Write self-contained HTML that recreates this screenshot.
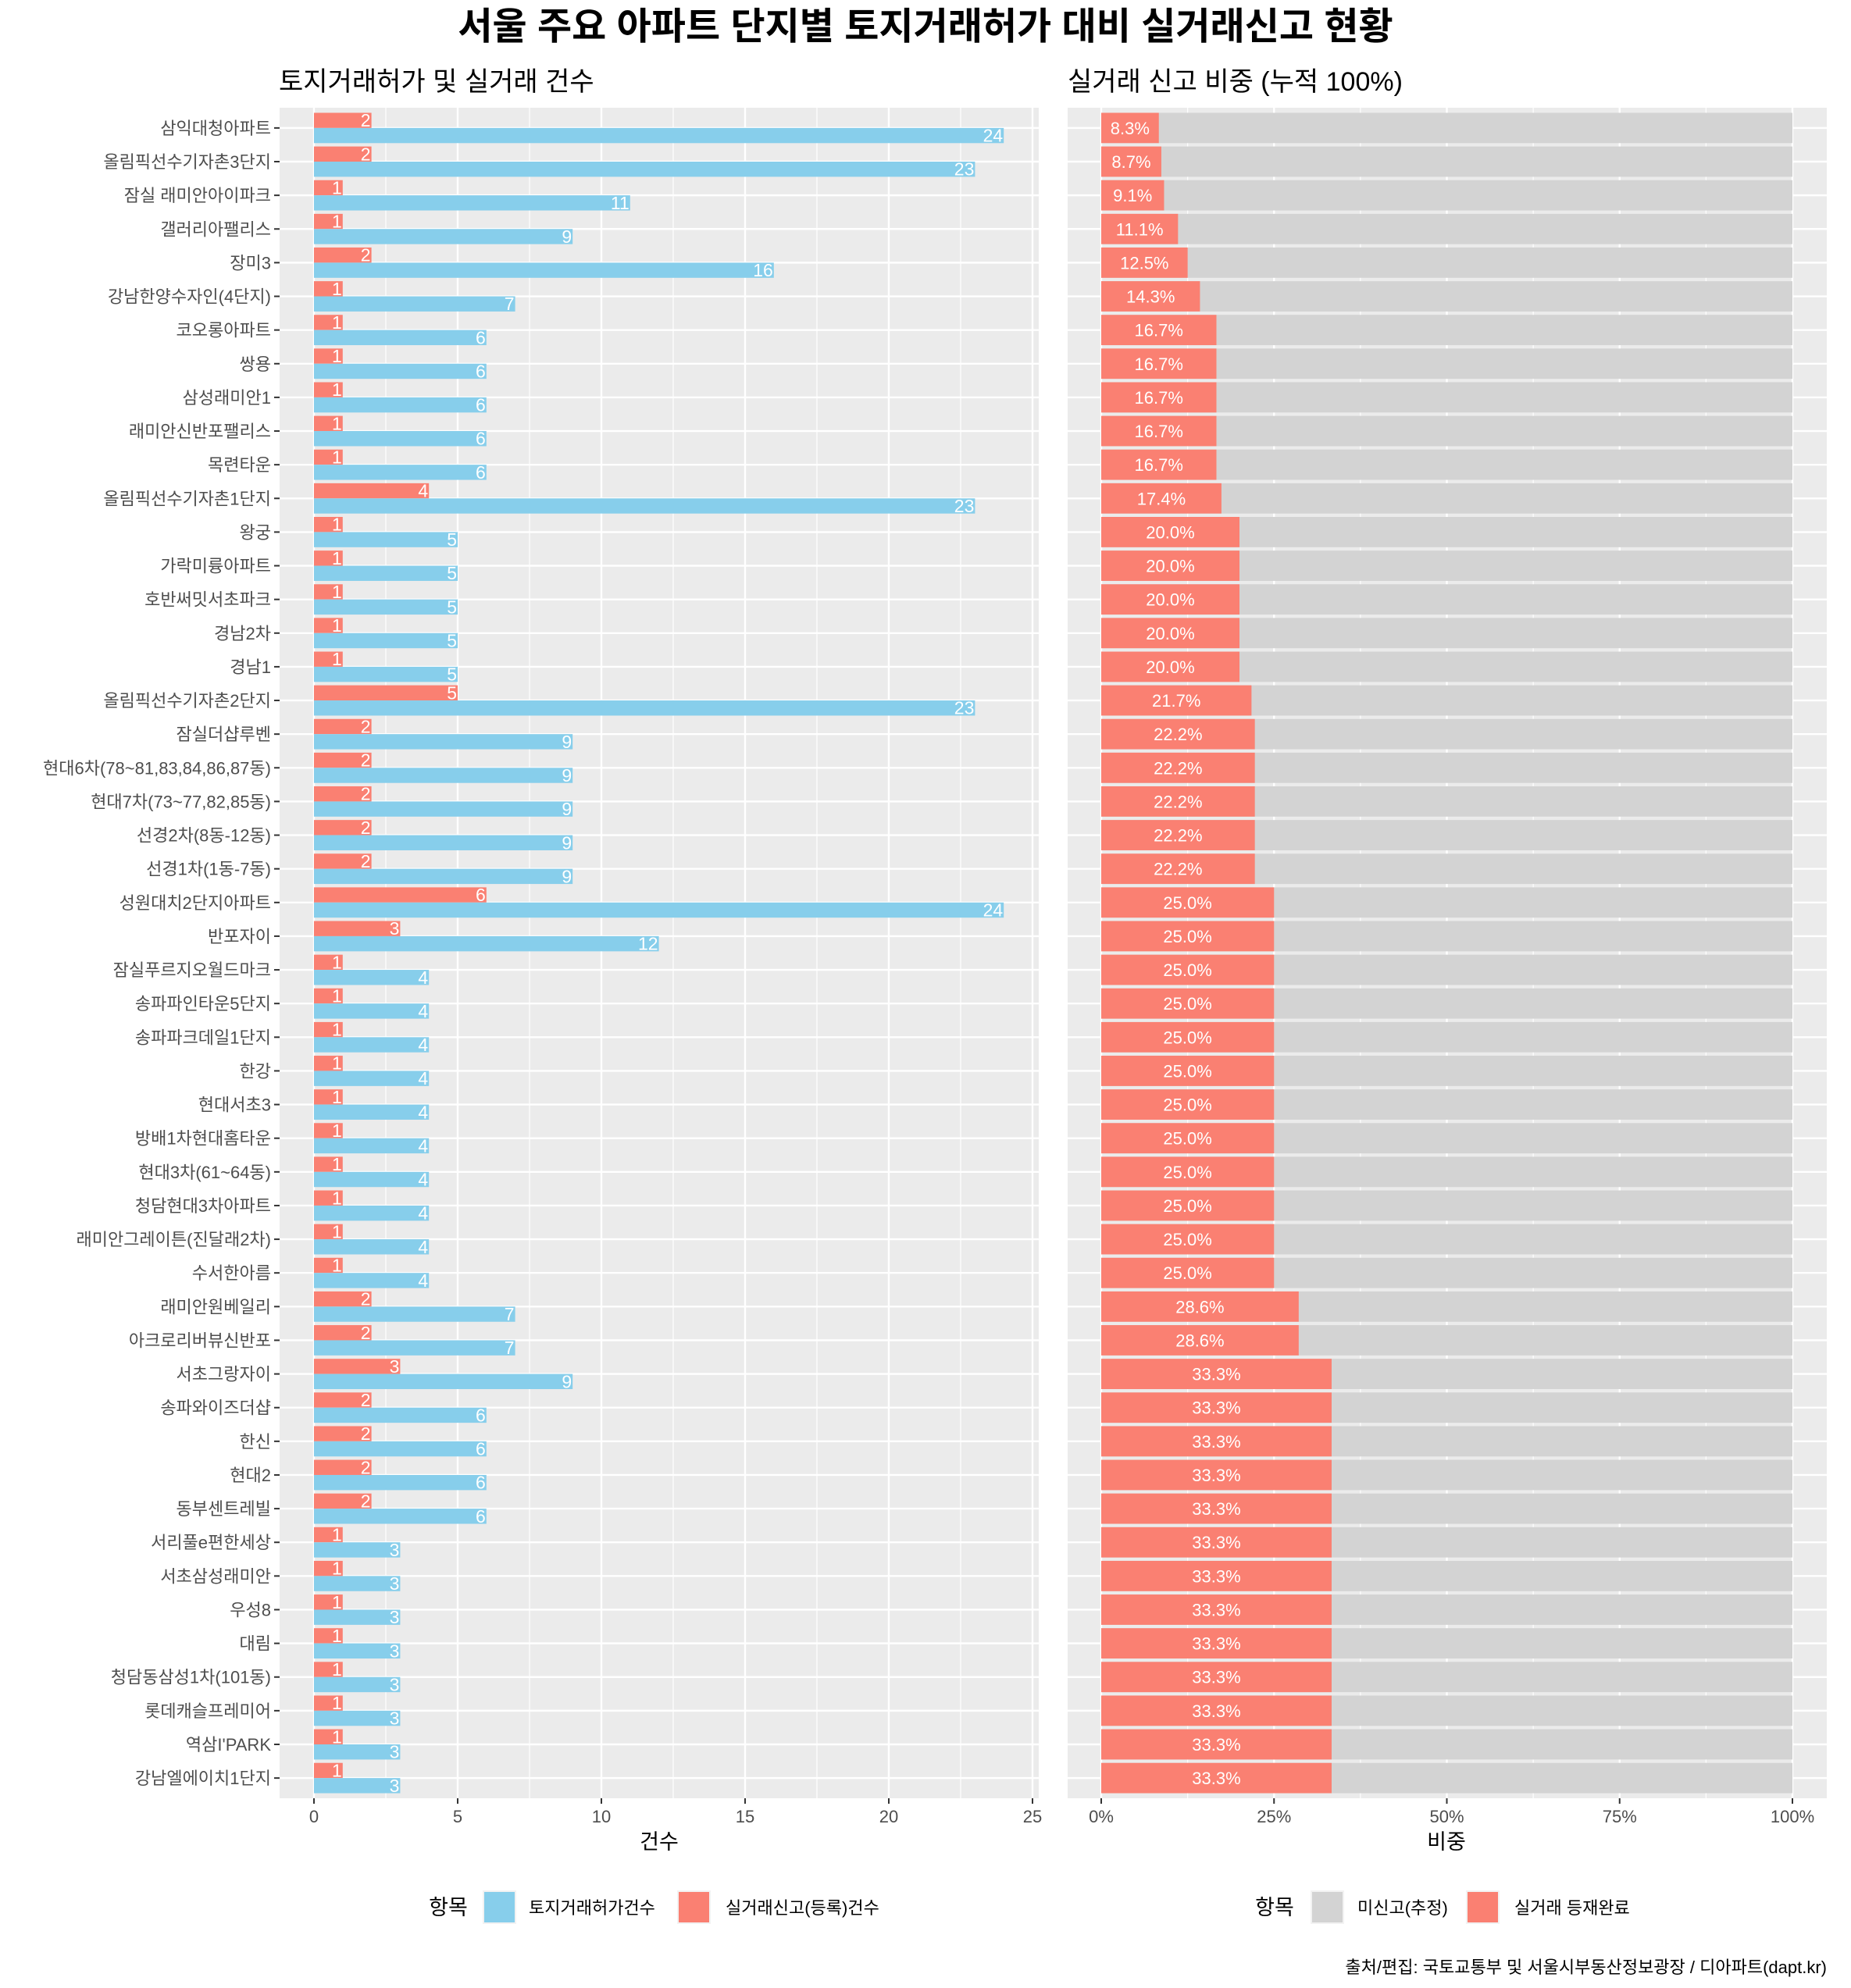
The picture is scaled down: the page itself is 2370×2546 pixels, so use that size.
<!DOCTYPE html>
<html><head><meta charset="utf-8">
<style>
html,body{margin:0;padding:0;background:#fff;}
svg{display:block;font-family:"Liberation Sans","Noto Sans CJK KR",sans-serif;}
</style></head>
<body>
<svg id="chart" width="2370" height="2546" viewBox="0 0 2370 2546" xmlns="http://www.w3.org/2000/svg">
<text x="1185" y="50" text-anchor="middle" font-size="48" font-weight="bold" fill="#000">서울 주요 아파트 단지별 토지거래허가 대비 실거래신고 현황</text>
<text x="357" y="116" font-size="34" fill="#000">토지거래허가 및 실거래 건수</text>
<text x="1367" y="116" font-size="34" fill="#000">실거래 신고 비중 (누적 100%)</text>
<g id="left"></g>
<g id="right"></g>
<text x="844" y="2368" text-anchor="middle" font-size="27" fill="#000">건수</text>
<text x="1852" y="2368" text-anchor="middle" font-size="27" fill="#000">비중</text>
<g>
<text x="574" y="2452" text-anchor="middle" font-size="27">항목</text>
<rect x="618" y="2421" width="43" height="43" fill="#F2F2F2"/>
<rect x="620" y="2423" width="39" height="39" fill="#87CEEB"/>
<text x="677" y="2451" font-size="22">토지거래허가건수</text>
<rect x="867" y="2421" width="43" height="43" fill="#F2F2F2"/>
<rect x="869" y="2423" width="39" height="39" fill="#FA8072"/>
<text x="929" y="2451" font-size="22">실거래신고(등록)건수</text>
</g>
<g>
<text x="1632" y="2452" text-anchor="middle" font-size="27">항목</text>
<rect x="1678" y="2421" width="43" height="43" fill="#F2F2F2"/>
<rect x="1680" y="2423" width="39" height="39" fill="#D3D3D3"/>
<text x="1738" y="2451" font-size="22">미신고(추정)</text>
<rect x="1877" y="2421" width="43" height="43" fill="#F2F2F2"/>
<rect x="1879" y="2423" width="39" height="39" fill="#FA8072"/>
<text x="1939" y="2451" font-size="22">실거래 등재완료</text>
</g>
<text x="2339" y="2527" text-anchor="end" font-size="22">출처/편집: 국토교통부 및 서울시부동산정보광장 / 디아파트(dapt.kr)</text>
</svg>
<script>
const categories = ["삼익대청아파트","올림픽선수기자촌3단지","잠실 래미안아이파크","갤러리아팰리스","장미3","강남한양수자인(4단지)","코오롱아파트","쌍용","삼성래미안1","래미안신반포팰리스","목련타운","올림픽선수기자촌1단지","왕궁","가락미륭아파트","호반써밋서초파크","경남2차","경남1","올림픽선수기자촌2단지","잠실더샵루벤","현대6차(78~81,83,84,86,87동)","현대7차(73~77,82,85동)","선경2차(8동-12동)","선경1차(1동-7동)","성원대치2단지아파트","반포자이","잠실푸르지오월드마크","송파파인타운5단지","송파파크데일1단지","한강","현대서초3","방배1차현대홈타운","현대3차(61~64동)","청담현대3차아파트","래미안그레이튼(진달래2차)","수서한아름","래미안원베일리","아크로리버뷰신반포","서초그랑자이","송파와이즈더샵","한신","현대2","동부센트레빌","서리풀e편한세상","서초삼성래미안","우성8","대림","청담동삼성1차(101동)","롯데캐슬프레미어","역삼I'PARK","강남엘에이치1단지"];
const reportCounts = [2,2,1,1,2,1,1,1,1,1,1,4,1,1,1,1,1,5,2,2,2,2,2,6,3,1,1,1,1,1,1,1,1,1,1,2,2,3,2,2,2,2,1,1,1,1,1,1,1,1];
const permitCounts = [24,23,11,9,16,7,6,6,6,6,6,23,5,5,5,5,5,23,9,9,9,9,9,24,12,4,4,4,4,4,4,4,4,4,4,7,7,9,6,6,6,6,3,3,3,3,3,3,3,3];
const countTicks = [0,5,10,15,20,25];
const pctTicks = [0,25,50,75,100];
const pctTickLabels = ["0%","25%","50%","75%","100%"];

const NS="http://www.w3.org/2000/svg";
function mk(parent,tag,attrs,text){const e=document.createElementNS(NS,tag);for(const k in attrs)e.setAttribute(k,attrs[k]);if(text!==undefined)e.textContent=text;parent.appendChild(e);return e;}
const topY=138,bottomY=2303;
const step=(bottomY-topY)/(categories.length-1+1.2);
const yC=i=>topY+0.6*step+i*step;
const band=0.9*step;

// left panel
const L=document.getElementById('left');
const lx0=358,lx1=1330;
const xL=v=>402+v*(1322-402)/25;
let e=mk(L,'rect',{x:lx0,y:topY,width:lx1-lx0,height:bottomY-topY,fill:'#EBEBEB'});


for(let i=0;i<countTicks.length-1;i++){const m=(countTicks[i]+countTicks[i+1])/2;e=mk(L,'line',{x1:xL(m),x2:xL(m),y1:topY,y2:bottomY,stroke:'#fff','stroke-width':1.2});

}
countTicks.forEach(t=>{e=mk(L,'line',{x1:xL(t),x2:xL(t),y1:topY,y2:bottomY,stroke:'#fff','stroke-width':2.4});
 
 
 e=mk(L,'line',{x1:xL(t),x2:xL(t),y1:bottomY,y2:bottomY+7,stroke:'#333','stroke-width':2});
 
 
 e=mk(L,'text',{x:xL(t),y:bottomY+31,'text-anchor':'middle','font-size':22,fill:'#4D4D4D'},String(t));
 
 });
categories.forEach((c,i)=>{const y=yC(i);
 e=mk(L,'line',{x1:lx0,x2:lx1,y1:y,y2:y,stroke:'#fff','stroke-width':2.4});
 
 
 e=mk(L,'line',{x1:lx0-7,x2:lx0,y1:y,y2:y,stroke:'#333','stroke-width':2});
 
 
 e=mk(L,'text',{x:lx0-11,y:y+8,'text-anchor':'end','font-size':22,fill:'#4D4D4D'},c);
 
 
 const h=band/2;
 e=mk(L,'rect',{x:xL(0),y:y-h,width:xL(reportCounts[i])-xL(0),height:h,fill:'#FA8072'});
 
 
 e=mk(L,'rect',{x:xL(0),y:y,width:xL(permitCounts[i])-xL(0),height:h,fill:'#87CEEB'});
 
 
 e=mk(L,'text',{x:xL(reportCounts[i])-1,y:y-h/2+8,'text-anchor':'end','font-size':23,fill:'#fff'},String(reportCounts[i]));
 
 
 e=mk(L,'text',{x:xL(permitCounts[i])-1,y:y+h/2+8,'text-anchor':'end','font-size':23,fill:'#fff'},String(permitCounts[i]));
 
 
});

// right panel
const R=document.getElementById('right');
const rx0=1367,rx1=2339;
const xR=v=>1410+v*(2295-1410)/100;
e=mk(R,'rect',{x:rx0,y:topY,width:rx1-rx0,height:bottomY-topY,fill:'#EBEBEB'});


for(let i=0;i<pctTicks.length-1;i++){const m=(pctTicks[i]+pctTicks[i+1])/2;e=mk(R,'line',{x1:xR(m),x2:xR(m),y1:topY,y2:bottomY,stroke:'#fff','stroke-width':1.2});

}
pctTicks.forEach((t,k)=>{e=mk(R,'line',{x1:xR(t),x2:xR(t),y1:topY,y2:bottomY,stroke:'#fff','stroke-width':2.4});
 
 
 e=mk(R,'line',{x1:xR(t),x2:xR(t),y1:bottomY,y2:bottomY+7,stroke:'#333','stroke-width':2});
 
 
 e=mk(R,'text',{x:xR(t),y:bottomY+31,'text-anchor':'middle','font-size':22,fill:'#4D4D4D'},pctTickLabels[k]);
 
 });
categories.forEach((c,i)=>{const y=yC(i);
 e=mk(R,'line',{x1:rx0,x2:rx1,y1:y,y2:y,stroke:'#fff','stroke-width':2.4});
 
 
 const p=reportCounts[i]/permitCounts[i]*100;
 e=mk(R,'rect',{x:xR(0),y:y-band/2,width:xR(100)-xR(0),height:band,fill:'#D3D3D3'});
 
 
 e=mk(R,'rect',{x:xR(0),y:y-band/2,width:xR(p)-xR(0),height:band,fill:'#FA8072'});
 
 
 e=mk(R,'text',{x:(xR(0)+xR(p))/2,y:y+8,'text-anchor':'middle','font-size':22,fill:'#fff'},p.toFixed(1)+'%');
 
 
});
</script>
</body></html>
